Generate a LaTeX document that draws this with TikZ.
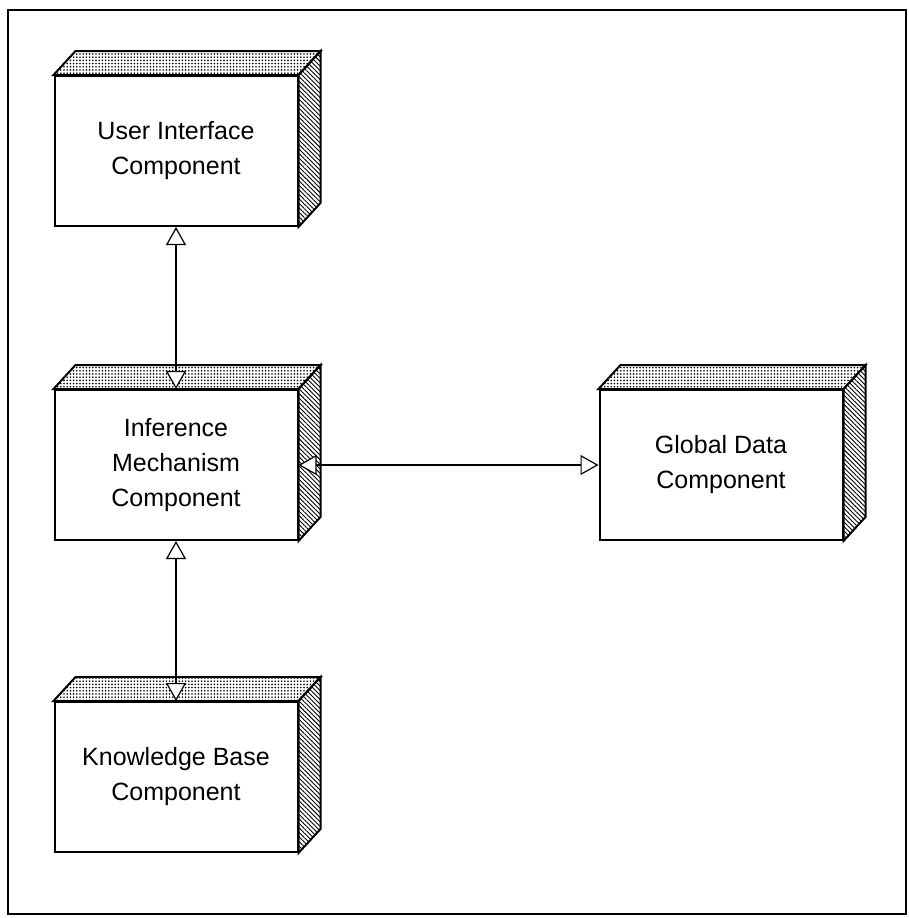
\documentclass[tikz,border=0pt]{standalone}
\usepackage{fontspec}
\setmainfont{Liberation Sans}
\usetikzlibrary{positioning,arrows.meta,patterns.meta}

\begin{document}
\begin{tikzpicture}[x=0.5pt,y=-0.5pt,
  comp/.style={draw,line width=1pt,fill=white,minimum width=121.5pt,minimum height=75pt,
    align=center,inner sep=0pt,font=\fontsize{12.5}{17.5}\selectfont},
  topface/.style={draw,line width=1pt,pattern={Dots[distance=1.6pt,radius=0.45pt]}},
  sideface/.style={draw,line width=1pt,pattern={Lines[angle=-45,distance=1.6pt,line width=0.45pt]}},
  link/.style={line width=0.6pt,{Triangle[length=9pt,width=10pt,fill=white]}-{Triangle[length=9pt,width=10pt,fill=white]}}]
\useasboundingbox (0,0) rectangle (909,918);
\draw[line width=1pt] (8,10) rectangle (906,914);

\node (ui) [comp] at (176,151) {User Interface\\Component};
\node (inf) [comp, below=81pt of ui] {Inference\\Mechanism\\Component};
\node (kb) [comp, below=80pt of inf] {Knowledge Base\\Component};
\node (gd) [comp, right=150pt of inf] {Global Data\\Component};

% depth of the boxes
\foreach \n in {ui,inf,kb,gd}{
  \path[topface] (\n.north west) -- ++(22,-24) -- ([shift={(22,-24)}]\n.north east) -- (\n.north east) -- cycle;
  \path[sideface] (\n.north east) -- ++(22,-24) -- ([shift={(22,-24)}]\n.south east) -- (\n.south east) -- cycle;
}

\draw[link] (ui.south) -- (inf.north);
\draw[link] (inf.south) -- (kb.north);
\draw[link] (inf.east) -- (gd.west);
\end{tikzpicture}
\end{document}
